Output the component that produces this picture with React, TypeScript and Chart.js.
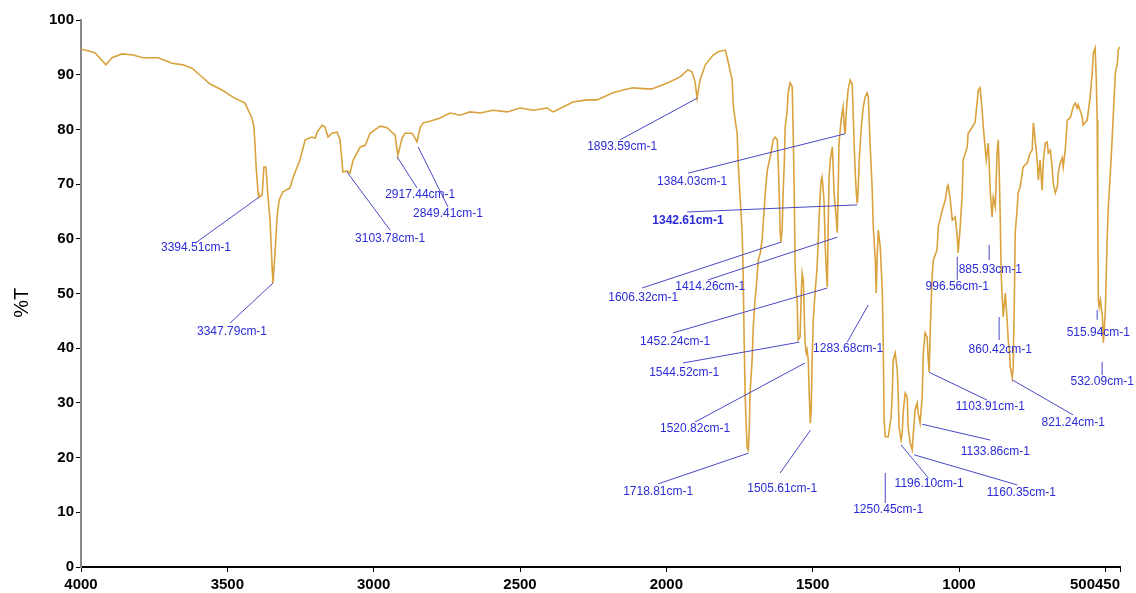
import React, { useEffect, useRef } from "react";
import { Chart, registerables } from "chart.js";

Chart.register(...registerables);

// Wavenumber (cm-1) and transmittance (%T)
const wavenumbers = [
  4000, 3952, 3915, 3894, 3860, 3822, 3788, 3737, 3689, 3651, 3621, 3593, 3559, 3518, 3481, 3440,
  3416, 3409, 3405, 3402, 3395, 3392, 3381, 3375, 3368, 3361, 3354, 3347, 3344, 3337, 3330, 3323,
  3310, 3286, 3275, 3252, 3234, 3211, 3200, 3193, 3176, 3166, 3156, 3142, 3125, 3115, 3105, 3091,
  3081, 3070, 3046, 3029, 3012, 2978, 2954, 2934, 2927, 2920, 2917, 2903, 2893, 2869, 2859, 2852,
  2841, 2831, 2807, 2773, 2739, 2705, 2671, 2636, 2592, 2544, 2500, 2455, 2407, 2387, 2353, 2319,
  2271, 2237, 2182, 2148, 2114, 2066, 2049, 1997, 1987, 1953, 1926, 1912, 1902, 1895, 1885, 1867,
  1840, 1823, 1799, 1792, 1775, 1772, 1765, 1758, 1755, 1748, 1741, 1738, 1734, 1731, 1727, 1724,
  1720, 1717, 1714, 1707, 1703, 1697, 1690, 1686, 1679, 1673, 1669, 1662, 1655, 1645, 1635, 1628,
  1621, 1618, 1615, 1611, 1608, 1604, 1601, 1597, 1594, 1587, 1584, 1577, 1570, 1567, 1563, 1560,
  1556, 1553, 1550, 1543, 1539, 1536, 1532, 1529, 1526, 1522, 1519, 1515, 1512, 1508, 1505, 1502,
  1498, 1492, 1485, 1481, 1478, 1474, 1471, 1468, 1464, 1461, 1457, 1454, 1450, 1447, 1444, 1440,
  1433, 1430, 1427, 1420, 1416, 1413, 1410, 1403, 1396, 1392, 1389, 1385, 1379, 1372, 1365, 1362,
  1358, 1355, 1351, 1348, 1345, 1341, 1334, 1327, 1321, 1314, 1310, 1304, 1297, 1293, 1286, 1283,
  1280, 1276, 1269, 1262, 1259, 1256, 1252, 1242, 1232, 1228, 1225, 1218, 1211, 1208, 1205, 1198,
  1194, 1191, 1184, 1177, 1174, 1167, 1160, 1157, 1150, 1143, 1140, 1133, 1126, 1122, 1116, 1109,
  1105, 1102, 1098, 1092, 1088, 1075, 1071, 1057, 1047, 1040, 1037, 1030, 1023, 1013, 1006, 1003,
  996, 989, 986, 972, 969, 955, 945, 934, 928, 921, 917, 907, 900, 893, 887, 883,
  876, 870, 866, 863, 859, 856, 852, 849, 842, 835, 832, 828, 825, 818, 815, 811,
  808, 801, 798, 791, 784, 781, 767, 757, 750, 746, 740, 733, 729, 723, 716, 712,
  705, 699, 695, 688, 682, 678, 671, 664, 661, 654, 647, 644, 637, 630, 620, 610,
  603, 596, 593, 579, 576, 562, 552, 545, 541, 535, 531, 528, 526, 524, 521, 517,
  510, 507, 504, 500, 494, 490, 483, 477, 466, 459, 456, 453, 450,
];

const transmittance = [
  94.7, 94.0, 91.8, 93.1, 93.8, 93.6, 93.1, 93.1, 92.1, 91.8, 91.2, 89.9, 88.3, 87.2, 85.9, 84.8,
  82.1, 80.4, 76.8, 73.5, 68.4, 67.6, 68.0, 73.1, 73.1, 67.6, 63.4, 54.8, 51.9, 57.4, 64.0, 67.1,
  68.6, 69.3, 71.3, 74.4, 78.1, 78.6, 78.4, 79.5, 80.8, 80.4, 78.6, 79.3, 79.5, 78.1, 72.2, 72.4,
  72.0, 74.4, 76.8, 77.1, 79.3, 80.6, 80.3, 79.3, 79.0, 76.2, 75.3, 78.4, 79.3, 79.3, 78.4, 77.7,
  80.4, 81.2, 81.5, 82.1, 83.0, 82.6, 83.2, 83.0, 83.5, 83.2, 83.9, 83.5, 83.9, 83.2, 84.1, 85.0,
  85.4, 85.4, 86.7, 87.2, 87.6, 87.4, 87.4, 88.5, 88.7, 89.6, 90.9, 90.5, 88.7, 85.7, 89.0, 91.8,
  93.6, 94.2, 94.5, 93.1, 89.0, 84.8, 81.7, 79.3, 74.4, 67.6, 61.1, 54.8, 41.0, 31.8, 25.6, 21.9,
  21.4, 24.5, 31.8, 37.8, 43.9, 48.8, 53.0, 56.1, 57.4, 59.8, 62.9, 68.4, 72.6, 75.0, 78.1, 78.6,
  78.1, 74.4, 69.5, 61.1, 59.4, 62.2, 68.4, 73.9, 80.4, 83.5, 86.7, 88.5, 87.8, 80.4, 68.4, 54.8,
  50.1, 48.8, 41.5, 42.0, 50.1, 53.7, 52.5, 46.4, 41.0, 39.1, 39.7, 37.8, 31.8, 26.3, 28.7, 37.8,
  45.2, 50.1, 54.8, 59.8, 64.0, 68.4, 70.7, 71.3, 69.0, 66.5, 58.5, 54.8, 51.2, 62.2, 71.3, 74.4,
  76.8, 73.1, 68.4, 64.0, 61.1, 68.4, 77.5, 81.7, 84.1, 80.4, 79.2, 83.5, 87.2, 89.0, 88.3, 83.5,
  76.8, 72.6, 68.4, 66.5, 68.4, 74.4, 80.4, 84.1, 85.9, 86.7, 85.9, 77.5, 69.5, 62.2, 56.1, 50.1,
  56.1, 61.6, 58.5, 50.1, 41.0, 26.9, 23.8, 23.8, 27.4, 31.8, 37.8, 39.1, 36.0, 31.8, 25.6, 23.2,
  24.5, 28.2, 31.8, 31.1, 25.6, 22.7, 21.4, 23.8, 28.7, 30.0, 28.2, 26.3, 31.1, 39.1, 42.8, 42.0,
  37.8, 35.6, 43.9, 53.0, 56.1, 58.0, 62.2, 65.3, 67.1, 69.5, 69.8, 67.1, 63.4, 64.0, 60.3, 57.4,
  62.2, 68.4, 74.4, 76.8, 79.3, 80.4, 81.3, 87.2, 87.6, 83.5, 80.4, 74.4, 77.5, 68.4, 64.0, 67.6,
  65.8, 75.7, 78.1, 73.1, 63.4, 53.7, 48.8, 45.7, 50.1, 44.6, 41.5, 39.7, 36.6, 34.6, 36.6, 48.8,
  61.1, 65.8, 68.4, 69.5, 72.0, 73.1, 73.9, 75.7, 76.2, 81.2, 78.1, 74.4, 70.7, 74.4, 68.9, 74.4,
  77.5, 77.7, 75.7, 76.2, 73.1, 70.2, 68.4, 69.5, 72.0, 73.9, 74.8, 73.1, 76.2, 81.7, 82.1, 84.1,
  84.8, 83.9, 84.5, 82.3, 80.8, 81.7, 85.9, 90.3, 94.0, 94.9, 89.0, 81.7, 65.8, 48.8, 47.5, 48.8,
  45.7, 41.0, 43.3, 47.0, 59.8, 65.8, 72.0, 78.1, 90.3, 92.1, 94.5, 94.9, 95.0,
];

const xTickValues = [4000, 3500, 3000, 2500, 2000, 1500, 1000, 500, 450];
const yTickValues = [0, 10, 20, 30, 40, 50, 60, 70, 80, 90, 100];

// Peak labels: text, peak point, leader end point, label point (all in cm-1 / %T)
const peakTexts = [
  "3394.51cm-1", "3347.79cm-1", "3103.78cm-1", "2917.44cm-1", "2849.41cm-1", "1893.59cm-1",
  "1384.03cm-1", "1342.61cm-1", "1606.32cm-1", "1414.26cm-1", "1452.24cm-1", "1544.52cm-1",
  "1520.82cm-1", "1718.81cm-1", "1505.61cm-1", "1283.68cm-1", "1250.45cm-1", "1196.10cm-1",
  "1160.35cm-1", "1133.86cm-1", "1103.91cm-1", "821.24cm-1", "885.93cm-1", "996.56cm-1",
  "860.42cm-1", "515.94cm-1", "532.09cm-1",
];
const peakX = [3392, 3344, 3091, 2920, 2848, 1895, 1389, 1348, 1608, 1416, 1450, 1546, 1526, 1720, 1508, 1310, 1252, 1198, 1153, 1126, 1102, 818, 897, 1006, 863, 528, 511];
const peakY = [67.6, 51.9, 72.2, 75.0, 76.8, 85.7, 79.2, 66.2, 59.4, 60.3, 51.0, 41.1, 37.3, 20.8, 25.0, 47.9, 17.2, 22.3, 20.5, 26.1, 35.6, 34.2, 58.9, 56.7, 45.7, 47.0, 37.5];
const leaderX = [3610, 3491, 2944, 2852, 2746, 2158, 1926, 1929, 2083, 1857, 1977, 1943, 1902, 2028, 1611, 1382, 1252, 1105, 801, 893, 904, 610, 897, 1006, 863, 528, 511];
const leaderY = [59.2, 44.6, 61.6, 69.3, 65.8, 78.1, 72.0, 64.9, 51.0, 52.5, 42.8, 37.3, 26.5, 15.2, 17.2, 41.1, 11.7, 16.3, 15.0, 23.2, 30.5, 27.8, 56.1, 52.5, 41.5, 45.2, 35.1];
const labelX = [3607, 3484, 2944, 2841, 2746, 2151, 1912, 1926, 2079, 1850, 1970, 1939, 1902, 2028, 1604, 1379, 1242, 1102, 787, 876, 893, 610, 893, 1006, 859, 524, 511];
const labelY = [58.3, 43.0, 60.0, 68.0, 64.5, 76.8, 70.4, 63.4, 49.2, 51.2, 41.1, 35.5, 25.2, 13.7, 14.3, 40.0, 10.4, 15.2, 13.5, 21.0, 29.3, 26.3, 54.3, 51.2, 39.7, 42.8, 33.8];

// The two crowded tick labels at the right end are drawn as one run of text
const crowdedTicks = [500, 450];

const FONT = '"Liberation Sans", Arial, sans-serif';
const TICK_LEN = 5;
const TICK_PAD = 4;
const TICK_SIZE = 15;

const peakPlugin = {
  id: "peakLabels",
  afterDatasetsDraw(chart: any) {
    const { ctx, scales } = chart;
    const x = scales.x;
    const y = scales.y;
    ctx.save();
    ctx.lineWidth = 1;
    ctx.strokeStyle = "#4848c8";
    ctx.fillStyle = "#2b2bd8";
    ctx.textAlign = "center";
    ctx.textBaseline = "middle";
    for (let i = 0; i < peakTexts.length; i++) {
      ctx.beginPath();
      ctx.moveTo(x.getPixelForValue(peakX[i]), y.getPixelForValue(peakY[i]));
      ctx.lineTo(x.getPixelForValue(leaderX[i]), y.getPixelForValue(leaderY[i]));
      ctx.stroke();
      ctx.font = (peakTexts[i] === "1342.61cm-1" ? "bold " : "") + "12px " + FONT;
      ctx.fillText(peakTexts[i], x.getPixelForValue(labelX[i]), y.getPixelForValue(labelY[i]));
    }
    ctx.restore();
  },
  afterDraw(chart: any) {
    const { ctx, scales } = chart;
    const x = scales.x;
    const y = scales.y;
    // Y axis title
    ctx.save();
    ctx.fillStyle = "#000";
    ctx.font = "20px " + FONT;
    ctx.textAlign = "center";
    ctx.textBaseline = "middle";
    ctx.translate(22, y.getPixelForValue(48.3));
    ctx.rotate(-Math.PI / 2);
    ctx.fillText("%T", 0, 0);
    ctx.restore();
    // crowded right-end tick labels
    ctx.save();
    ctx.fillStyle = "#000";
    ctx.font = "bold " + TICK_SIZE + "px " + FONT;
    ctx.textAlign = "right";
    ctx.textBaseline = "middle";
    const ty = x.top + TICK_LEN + TICK_PAD + (TICK_SIZE * 1.2) / 2;
    ctx.fillText(crowdedTicks.join(""), x.getPixelForValue(crowdedTicks[crowdedTicks.length - 1]), ty);
    ctx.restore();
  },
};

export default function App() {
  const ref = useRef<HTMLCanvasElement | null>(null);
  useEffect(() => {
    if (!ref.current) return;
    const points = wavenumbers.map((w, i) => ({ x: w, y: transmittance[i] }));
    const chart = new Chart(ref.current, {
      type: "scatter",
      data: {
        datasets: [
          {
            data: points,
            showLine: true,
            borderColor: "#d9a23c",
            borderWidth: 1.6,
            pointRadius: 0,
            tension: 0,
          },
        ],
      },
      options: {
        animation: false,
        responsive: true,
        maintainAspectRatio: false,
        layout: { padding: { top: 20, right: 16, left: 0, bottom: 0 } },
        plugins: { legend: { display: false }, tooltip: { enabled: false } },
        scales: {
          x: {
            type: "linear",
            reverse: true,
            min: 450,
            max: 4000,
            afterBuildTicks: (s: any) => {
              s.ticks = xTickValues.map((v) => ({ value: v }));
            },
            afterFit: (s: any) => {
              s.height = 26;
            },
            ticks: {
              autoSkip: false,
              maxRotation: 0,
              minRotation: 0,
              padding: TICK_PAD,
              color: "#000",
              font: { family: FONT, size: TICK_SIZE, weight: "bold" },
              callback: (v: any) => (crowdedTicks.includes(v) ? "" : String(v)),
            },
            grid: { drawOnChartArea: false, tickLength: TICK_LEN, color: "#000", lineWidth: 1 },
            border: { color: "#000", width: 2 },
          },
          y: {
            min: 0,
            max: 100,
            afterBuildTicks: (s: any) => {
              s.ticks = yTickValues.map((v) => ({ value: v }));
            },
            afterFit: (s: any) => {
              s.width = 81;
            },
            ticks: {
              padding: 2,
              color: "#000",
              font: { family: FONT, size: TICK_SIZE, weight: "bold" },
            },
            grid: { drawOnChartArea: false, tickLength: TICK_LEN, color: "#000", lineWidth: 1 },
            border: { color: "#888", width: 2 },
          },
        },
      },
      plugins: [peakPlugin],
    } as any);
    return () => chart.destroy();
  }, []);
  return (
    <div style={{ position: "fixed", left: 0, top: 0, width: 1136, height: 593, background: "#fff" }}>
      <canvas ref={ref} />
    </div>
  );
}
